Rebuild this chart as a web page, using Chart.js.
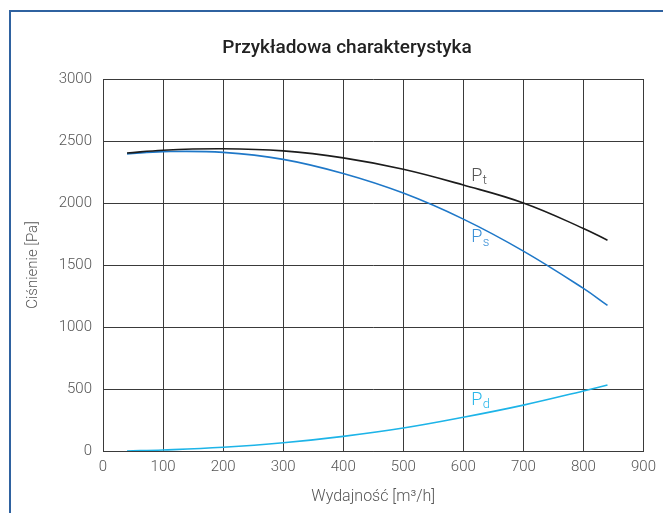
<!DOCTYPE html>
<html lang="pl">
<head>
<meta charset="utf-8">
<title>Przykładowa charakterystyka</title>
<script src="https://cdn.jsdelivr.net/npm/chart.js@4.4.1/dist/chart.umd.min.js"></script>
<style>
  html, body { margin: 0; padding: 0; background: #ffffff; }
  body { width: 663px; height: 513px; position: relative; overflow: hidden; }
  .frame {
    position: absolute; left: 9px; top: 10px; width: 700px; height: 600px;
    border-left: 2px solid #2f62a0; border-top: 2px solid #2f62a0;
  }
  #wrap { position: absolute; left: 0; top: 0; width: 663px; height: 513px; }
</style>
</head>
<body>
<div class="frame"></div>
<div id="wrap"><canvas id="chart" width="663" height="513"></canvas></div>
<script>
// Air flow [m³/h] at which the curves are sampled
const flow = [40, 100, 200, 300, 400, 500, 600, 700, 800, 840];
// Total pressure Pt [Pa]
const totalPressure = [2403, 2426, 2437, 2420, 2364, 2272, 2145, 2000, 1795, 1700];
// Static pressure Ps [Pa]
const staticPressure = [2396, 2414, 2408, 2352, 2238, 2080, 1870, 1612, 1311, 1174];
// Dynamic pressure Pd [Pa]
const dynamicPressure = [0, 8, 30, 66, 118, 185, 272, 370, 484, 532];

// Curve labels: main letter, subscript, anchor in data units
const curveLabels = [
  { main: 'P', sub: 't', x: 613, y: 2217, color: '#555555' },
  { main: 'P', sub: 's', x: 613, y: 1719, color: '#3a8fd6' },
  { main: 'P', sub: 'd', x: 613, y: 411,  color: '#2bb7ea' }
];

const chartTitle = 'Przykładowa charakterystyka';
const xTitle = 'Wydajność [m³/h]';
const yTitle = 'Ciśnienie [Pa]';

const FONT = 'Roboto, "Noto Sans", sans-serif';

const toPoints = (ys) => flow.map((x, i) => ({ x, y: ys[i] }));

// Chart heading, centred over the framed panel
const headingPlugin = {
  id: 'heading',
  afterDraw(chart) {
    const { ctx } = chart;
    ctx.save();
    ctx.font = '500 19px ' + FONT;
    ctx.fillStyle = '#222222';
    ctx.textAlign = 'center';
    ctx.textBaseline = 'middle';
    ctx.fillText(chartTitle, 347, 48);
    ctx.restore();
  }
};

// P with subscript placed next to each curve
const curveLabelPlugin = {
  id: 'curveLabels',
  afterDatasetsDraw(chart) {
    const { ctx, scales } = chart;
    ctx.save();
    ctx.textBaseline = 'middle';
    ctx.textAlign = 'left';
    curveLabels.forEach(l => {
      const px = scales.x.getPixelForValue(l.x);
      const py = scales.y.getPixelForValue(l.y);
      ctx.fillStyle = l.color;
      ctx.font = '300 18px ' + FONT;
      ctx.fillText(l.main, px, py);
      const w = ctx.measureText(l.main).width;
      ctx.font = '300 13px ' + FONT;
      ctx.fillText(l.sub, px + w + 0.5, py + 5);
    });
    ctx.restore();
  }
};

const plainNumber = (v) => String(v);

new Chart(document.getElementById('chart'), {
  type: 'line',
  data: {
    datasets: [
      { label: 'Pt', data: toPoints(totalPressure), borderColor: '#1c1c1c', borderWidth: 1.6 },
      { label: 'Ps', data: toPoints(staticPressure), borderColor: '#1f78c8', borderWidth: 1.6 },
      { label: 'Pd', data: toPoints(dynamicPressure), borderColor: '#1db4e8', borderWidth: 1.6 }
    ]
  },
  options: {
    responsive: false,
    animation: false,
    devicePixelRatio: 1,
    layout: { padding: { left: 0, right: 18, top: 79, bottom: 0 } },
    elements: {
      point: { radius: 0, hoverRadius: 0 },
      line: { tension: 0.4, fill: false }
    },
    plugins: {
      legend: { display: false },
      title: { display: false },
      tooltip: { enabled: false }
    },
    scales: {
      x: {
        type: 'linear',
        min: 0, max: 900,
        ticks: { stepSize: 100, padding: 7, color: '#555555', font: { family: FONT, size: 15, weight: '300' }, maxRotation: 0, callback: plainNumber },
        grid: { color: '#3a3a3a', lineWidth: 1, drawTicks: false },
        border: { color: '#3a3a3a', width: 1 },
        title: { display: true, text: xTitle, color: '#555555', font: { family: FONT, size: 16, weight: '300' }, padding: { top: 0, bottom: 6 } },
        afterFit(scale) { scale.height = 62; }
      },
      y: {
        min: 0, max: 3000,
        ticks: { stepSize: 500, padding: 11, color: '#555555', font: { family: FONT, size: 15, weight: '300' }, callback: plainNumber },
        grid: { color: '#3a3a3a', lineWidth: 1, drawTicks: false },
        border: { color: '#3a3a3a', width: 1 },
        title: { display: true, text: yTitle, color: '#555555', font: { family: FONT, size: 15, weight: '300' }, padding: { top: 24, bottom: 0 } },
        afterFit(scale) { scale.width = 103; }
      }
    }
  },
  plugins: [headingPlugin, curveLabelPlugin]
});
</script>
</body>
</html>
